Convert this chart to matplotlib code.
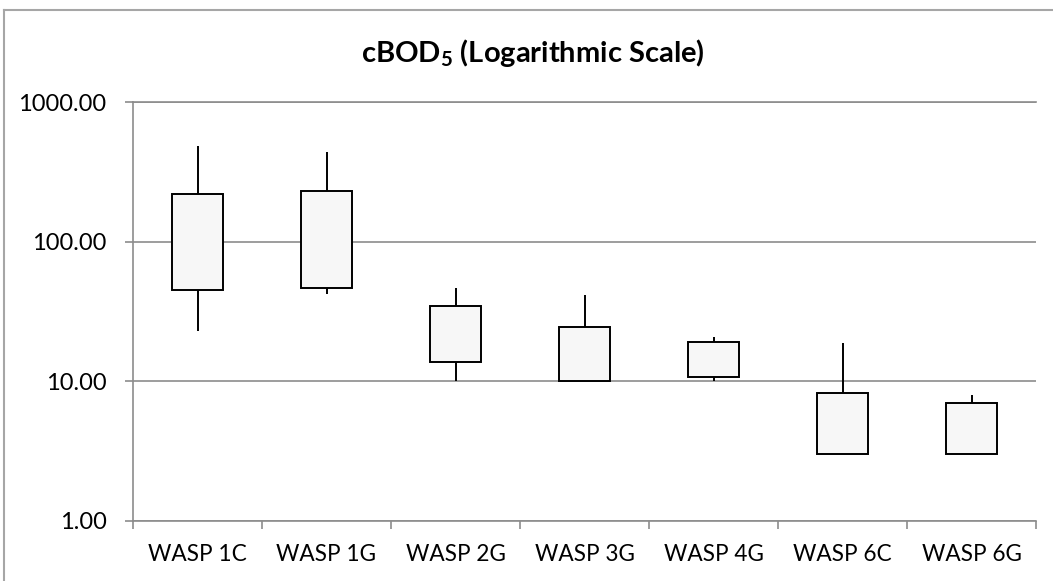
import matplotlib
matplotlib.use("Agg")
import matplotlib.pyplot as plt
from matplotlib.lines import Line2D
from matplotlib.ticker import FixedLocator, NullFormatter, FormatStrFormatter, NullLocator
import numpy as np

plt.rcParams['font.family'] = ['Lato', 'DejaVu Sans']
plt.rcParams['mathtext.fontset'] = 'custom'
plt.rcParams['mathtext.rm'] = 'Lato'
plt.rcParams['mathtext.bf'] = 'Lato:bold'

# data
categories = ["WASP 1C", "WASP 1G", "WASP 2G", "WASP 3G", "WASP 4G", "WASP 6C", "WASP 6G"]
high = [488, 437, 46.6, 41.7, 20.8, 18.9, 7.96]
box_top = [219, 231, 34.8, 24.3, 19.2, 8.27, 6.98]
box_bottom = [45.1, 46.4, 13.7, 10.0, 10.7, 3.0, 3.0]
low = [23.0, 42.0, 10.0, 10.0, 10.0, 3.0, 3.0]
yticks = [1, 10, 100, 1000]

grid_col = "#8c8c8c"

fig = plt.figure(figsize=(10.53, 5.81), dpi=100)
ax = fig.add_axes([133 / 1053, 60.3 / 581, 903 / 1053, 418.4 / 581])

x = np.arange(len(categories)) + 0.5
ax.vlines(x, low, high, color="black", lw=1.4, zorder=2)
ax.bar(x, np.array(box_top) - np.array(box_bottom), bottom=box_bottom, width=0.4,
       facecolor="#f7f7f7", edgecolor="black", linewidth=1.4, zorder=3)

ax.set_yscale("log")
ax.set_ylim(1, 1000)
ax.set_xlim(0, len(categories))
ax.yaxis.set_major_locator(FixedLocator(yticks))
ax.yaxis.set_minor_locator(NullLocator())
ax.yaxis.set_major_formatter(FormatStrFormatter("%.2f"))
ax.grid(axis="y", color=grid_col, lw=1.2, zorder=0)

ax.xaxis.set_major_locator(FixedLocator(np.arange(len(categories) + 1)))
ax.xaxis.set_major_formatter(NullFormatter())
ax.xaxis.set_minor_locator(FixedLocator(x))
ax.set_xticklabels(categories, minor=True)

ax.tick_params(axis="y", which="major", direction="out", length=6, width=1.2,
               color=grid_col, labelsize=17, pad=13)
ax.tick_params(axis="x", which="major", direction="out", length=6, width=1.2, color=grid_col)
ax.tick_params(axis="x", which="minor", length=0, labelsize=16.3, pad=17)

for s in ["right"]:
    ax.spines[s].set_visible(False)
for s in ["left", "bottom", "top"]:
    ax.spines[s].set_color(grid_col)
    ax.spines[s].set_linewidth(1.2)

fig.text(533 / 1053, 1 - 61.7 / 581, r"cBOD$_\mathbf{5}$ (Logarithmic Scale)",
         ha="center", va="baseline", fontsize=21, fontweight="bold")

# chart area border (cropped on right and bottom)
bx, by = 4 / 1053, 1 - 10 / 581
fig.add_artist(Line2D([bx, bx], [0, by], color="#a6a6a6", lw=1.5))
fig.add_artist(Line2D([bx, 1], [by, by], color="#a6a6a6", lw=1.5))

fig.savefig("out.png", dpi=100)
